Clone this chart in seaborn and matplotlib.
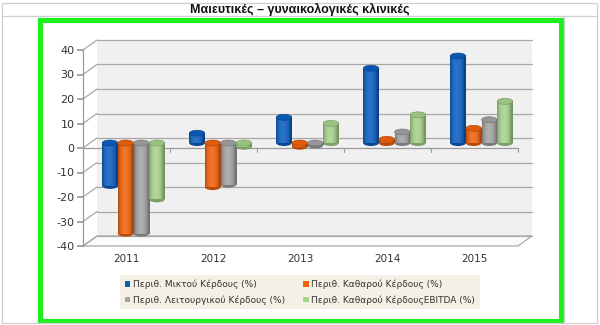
import numpy as np
import pandas as pd
import matplotlib
matplotlib.use("Agg")
import matplotlib.pyplot as plt
import seaborn as sns
from matplotlib.patches import Rectangle, Ellipse, Polygon, Patch
from matplotlib.transforms import ScaledTranslation
from matplotlib.colors import to_rgb

# ---- data ----
years = ["2011", "2012", "2013", "2014", "2015"]
series = [
    "Περιθ. Μικτού Κέρδους (%)",
    "Περιθ. Καθαρού Κέρδους (%)",
    "Περιθ. Λειτουργικού Κέρδους (%)",
    "Περιθ. Καθαρού ΚέρδουςEBITDA (%)",
]
gross_margin = [-17.5, 4.0, 10.5, 30.5, 35.5]
net_margin = [-37.0, -18.0, -1.5, 1.5, 6.0]
operating_margin = [-37.0, -17.0, -1.0, 4.5, 9.5]
ebitda_margin = [-23.0, -1.5, 8.0, 11.5, 17.0]
colors = ["#0b5fc2", "#f2620c", "#a3a3a3", "#a6d38a"]
title = "Μαιευτικές – γυναικολογικές κλινικές"

values = [gross_margin, net_margin, operating_margin, ebitda_margin]
df = pd.DataFrame(
    [(y, s, v[i]) for s, v in zip(series, values) for i, y in enumerate(years)],
    columns=["year", "series", "value"],
)

sns.set_theme(style="white")
plt.rcParams["font.family"] = ["DejaVu Sans"]

W, H = 600, 325
fig = plt.figure(figsize=(W / 100, H / 100), dpi=100)
fig.patch.set_facecolor("white")

# page frame: table border, header line and green box
fl = fig.add_axes([0, 0, 1, 1], zorder=-5)
fl.set_xlim(0, W)
fl.set_ylim(H, 0)
fl.axis("off")
grey = "#cfcfcf"
fl.plot([2, 597, 597, 2, 2], [3, 3, 323, 323, 3], color=grey, lw=0.9)
fl.plot([2, 597], [16, 16], color=grey, lw=0.9)
fl.plot([564, 564], [16, 323], color=grey, lw=0.9)
fl.add_patch(Rectangle((39.5, 19.5), 521, 301, fill=False, edgecolor="#1ef01e", lw=3.7))
fl.text(300, 9.5, title, ha="center", va="center", fontsize=9, fontweight="bold",
        family="Liberation Sans", color="#111111")

# front plane of the chart
ax_l, ax_b, ax_w, ax_h = 83, 79, 435, 196
ax = fig.add_axes([ax_l / W, ax_b / H, ax_w / W, ax_h / H])
ax.set_facecolor("none")

sns.barplot(data=df, x="year", y="value", hue="series", palette=colors,
            width=0.72, gap=0, legend=False, ax=ax, saturation=1)

XMIN, XMAX, YMIN, YMAX = -0.5, 4.5, -40, 40
ux = ax_w / (XMAX - XMIN)   # px per x unit
uy = ax_h / (YMAX - YMIN)   # px per y unit
DXP, DYP = 14, 10           # depth offset of back wall in px
dx, dy = DXP / ux, DYP / uy

# back wall and floor
ax.add_patch(Rectangle((XMIN + dx, YMIN + dy), XMAX - XMIN, YMAX - YMIN,
                       facecolor="#f0f0f0", edgecolor="none", zorder=0.1, clip_on=False))
ax.add_patch(Polygon([(XMIN, YMIN), (XMAX, YMIN), (XMAX + dx, YMIN + dy), (XMIN + dx, YMIN + dy)],
                     closed=True, facecolor="#fbfbfb", edgecolor="#a8a8a8", lw=0.9,
                     zorder=0.2, clip_on=False))
yt = np.arange(-40, 41, 10)
for y in yt:
    ax.plot([XMIN + dx, XMAX + dx], [y + dy, y + dy], color="#a8a8a8", lw=0.9,
            zorder=0.3, clip_on=False)
    ax.plot([XMIN, XMIN + dx], [y, y + dy], color="#a8a8a8", lw=0.9,
            zorder=0.3, clip_on=False)

# zero line with category boundary ticks
ax.plot([XMIN, XMAX], [0, 0], color="#9a9a9a", lw=0.9, zorder=0.4, clip_on=False)
for b in np.arange(XMIN, XMAX + 0.01, 1.0):
    ax.plot([b, b], [0, -1.6], color="#9a9a9a", lw=0.8, zorder=0.4, clip_on=False)

# turn flat bars into shaded cylinders standing mid-depth
off = ScaledTranslation(DXP / 2 / 100, DYP / 2 / 100, fig.dpi_scale_trans)
btr = ax.transData + off
cap_h = 6 / uy


def mix(c, t, target):
    c = np.array(c)
    return c + (np.array(target) - c) * t


n = 64
tt = np.linspace(0, 1, n)
shade = np.sin(np.pi * np.clip(tt * 1.12, 0, 1)) ** 0.6
for p in list(ax.patches):
    if not isinstance(p, Rectangle) or p.get_width() <= 0 or p.get_width() > 0.5:
        continue
    x0, w = p.get_x(), p.get_width()
    y0, h = p.get_y(), p.get_height()
    lo, hi = min(y0, y0 + h), max(y0, y0 + h)
    base = to_rgb(p.get_facecolor())
    grad = np.array([mix(base, 0.3, (0, 0, 0)) * (1 - s) + mix(base, 0.12, (1, 1, 1)) * s
                     for s in shade])
    img = np.tile(grad[None, :, :], (2, 1, 1))
    p.set_visible(False)
    ax.add_patch(Ellipse((x0 + w / 2, lo), w, cap_h, facecolor=mix(base, 0.25, (0, 0, 0)),
                         edgecolor="none", transform=btr, zorder=2.9, clip_on=False))
    im = ax.imshow(img, extent=[x0, x0 + w, lo, hi], aspect="auto",
                   interpolation="bilinear", zorder=3, transform=btr)
    im.set_clip_on(False)
    ax.add_patch(Ellipse((x0 + w / 2, hi), w, cap_h, facecolor=mix(base, 0.08, (0, 0, 0)),
                         edgecolor=mix(base, 0.3, (0, 0, 0)), lw=0.4, transform=btr,
                         zorder=3.1, clip_on=False))

ax.set_xlim(XMIN, XMAX)
ax.set_ylim(YMIN, YMAX)
ax.set_yticks(yt)
ax.set_yticklabels([str(v) for v in yt])
ax.set_xlabel("")
ax.set_ylabel("")
for s in ["top", "right", "bottom"]:
    ax.spines[s].set_visible(False)
ax.spines["left"].set_color("#9a9a9a")
ax.spines["left"].set_linewidth(0.9)
ax.tick_params(axis="y", length=4, color="#9a9a9a", labelsize=8, labelcolor="#333333", pad=2,
               left=True)
ax.tick_params(axis="x", length=0, labelsize=7.5, labelcolor="#333333", pad=6)

# legend
handles = [Patch(facecolor=c, edgecolor="none") for c in colors]
order = [0, 2, 1, 3]
leg = fig.legend([handles[i] for i in order], [series[i] for i in order], ncol=2,
                 loc="center", bbox_to_anchor=(0.5, 1 - 292 / H), frameon=True,
                 fancybox=False, fontsize=6.5, handlelength=0.6, handleheight=0.6,
                 handletextpad=0.3, columnspacing=2.0, labelspacing=0.7,
                 borderpad=0.5, labelcolor="#333333")
leg.get_frame().set_facecolor("#f3eddf")
leg.get_frame().set_edgecolor("none")

fig.savefig("out.png", dpi=100, facecolor="white")
